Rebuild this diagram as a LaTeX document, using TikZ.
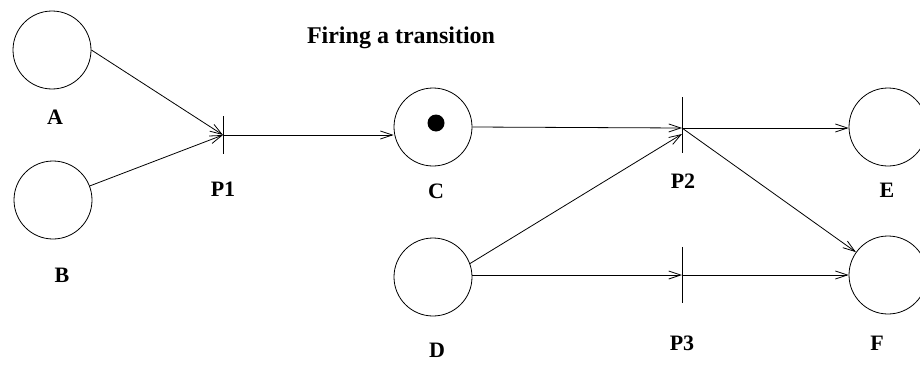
\documentclass[tikz,border=0pt]{standalone}
\usepackage{fontspec}
\setmainfont{Liberation Serif}
\usetikzlibrary{arrows.meta}

\begin{document}
\begin{tikzpicture}[x=1pt, y=-1pt,
        place/.style={draw, circle, minimum size=78pt, inner sep=0pt, line width=0.8pt},
        bar/.style={inner sep=0pt, minimum width=0pt},
        token/.style={circle, fill=black, minimum size=17pt, inner sep=0pt},
        lbl/.style={font=\fontsize{22}{26}\selectfont\bfseries},
        arr/.style={-{Straight Barb[length=12pt, width=8pt]}, line width=0.8pt}]

        \useasboundingbox (0,0) rectangle (920,364);

        \node[lbl, font=\fontsize{24}{28}\selectfont\bfseries] (title) at (401,38) {Firing a transition};

        % places
        \node[place] (A) at (52,50)   {};
        \node[place] (B) at (53,200)  {};
        \node[place] (C) at (433,127) {};
        \node[place] (D) at (433,277) {};
        \node[place] (E) at (888,127) {};
        \node[place] (F) at (888,275) {};
        \node[token] (tok) at (436,123) {};

        % transitions
        \node[bar, minimum height=37pt] (P1) at (223,135) {};
        \node[bar, minimum height=55pt] (P2) at (682,125) {};
        \node[bar, minimum height=56pt] (P3) at (682,275) {};
        \draw[line width=0.8pt] (P1.north) -- (P1.south);
        \draw[line width=0.8pt] (P2.north) -- (P2.south);
        \draw[line width=0.8pt] (P3.north) -- (P3.south);

        % labels
        \node[lbl] (labA)  at (55,117)  {A};
        \node[lbl] (labB)  at (62,275)  {B};
        \node[lbl] (labC)  at (436,191) {C};
        \node[lbl] (labD)  at (437,350) {D};
        \node[lbl] (labE)  at (887,190) {E};
        \node[lbl] (labF)  at (877,343) {F};
        \node[lbl] (labP1) at (223,189) {P1};
        \node[lbl] (labP2) at (683,181) {P2};
        \node[lbl] (labP3) at (682,343) {P3};

        % arcs
        \draw[arr] (A.east) -- (P1.center);
        \draw[arr] (B) -- (P1.center);
        \draw[arr] (P1.center) -- (P1.center -| C.west);
        \draw[arr] (C.east) -- ([yshift=-3pt]P2.center);
        \draw[arr] (D.20) -- ([yshift=-9pt]P2.center);
        \draw[arr] (P3.center -| D.east) -- (P3.center);
        \draw[arr] ([yshift=-3pt]P2.center) -- ([yshift=-3pt]P2.center -| E.west);
        \draw[arr] ([yshift=-3pt]P2.center) -- (F);
        \draw[arr] (P3.center) -- (P3.center -| F.west);

    \end{tikzpicture}
\end{document}
